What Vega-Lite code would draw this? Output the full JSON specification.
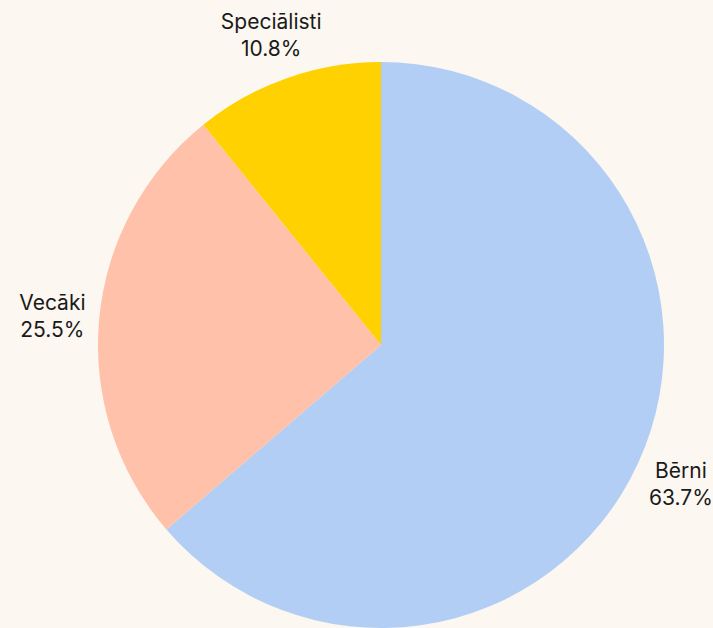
{
  "$schema": "https://vega.github.io/schema/vega-lite/v6.json",
  "autosize": "none",
  "width": 664,
  "height": 566,
  "padding": {"left": 49, "top": 62, "right": 0, "bottom": 0},
  "background": "#fcf7f0",
  "config": {"view": {"stroke": null}},
  "data": {
    "values": [
      {"group": "Bērni", "share": 63.7, "order": 1, "label": "Bērni\n63.7%"},
      {"group": "Vecāki", "share": 25.5, "order": 2, "label": "Vecāki\n25.5%"},
      {"group": "Speciālisti", "share": 10.8, "order": 3, "label": "Speciālisti\n10.8%"}
    ]
  },
  "encoding": {
    "theta": {"field": "share", "type": "quantitative", "stack": true},
    "order": {"field": "order", "type": "quantitative"}
  },
  "layer": [
    {
      "mark": {"type": "arc", "radius": 283},
      "encoding": {
        "color": {
          "field": "group",
          "type": "nominal",
          "scale": {"domain": ["Bērni", "Vecāki", "Speciālisti"], "range": ["#b3cef5", "#ffc1a9", "#ffd100"]},
          "legend": null
        }
      }
    },
    {
      "mark": {"type": "text", "radius": 330, "dy": -11, "lineBreak": "\n", "lineHeight": 27, "font": "Inter", "fontSize": 21, "letterSpacing": 0.7, "fill": "#1a1a1a", "align": "center", "baseline": "middle"},
      "encoding": {
        "text": {"field": "label", "type": "nominal"}
      }
    }
  ]
}
